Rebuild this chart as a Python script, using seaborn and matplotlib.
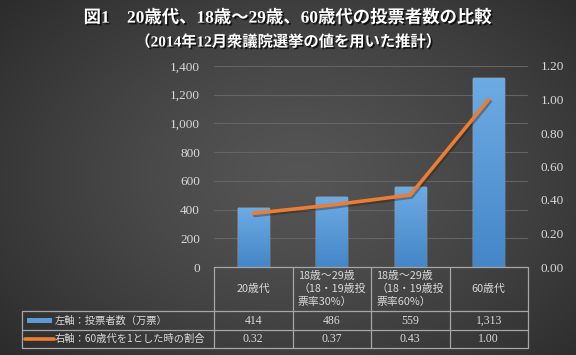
import numpy as np
import pandas as pd
import matplotlib
matplotlib.use("Agg")
import matplotlib.pyplot as plt
import matplotlib.patheffects as pe
from matplotlib.lines import Line2D
from matplotlib.patches import Rectangle
import matplotlib.transforms as mtransforms
import seaborn as sns

# ---------------- data ----------------
categories = ["20歳代",
              "18歳～29歳\n（18・19歳投\n票率30%）",
              "18歳～29歳\n（18・19歳投\n票率60%）",
              "60歳代"]
voters = [414, 486, 559, 1313]          # 左軸：投票者数（万票）
ratio = [0.32, 0.37, 0.43, 1.00]        # 右軸：60歳代を1とした時の割合
series_labels = ["左軸：投票者数（万票）", "右軸：60歳代を1とした時の割合"]
left_ticks = [0, 200, 400, 600, 800, 1000, 1200, 1400]
right_ticks = [0.0, 0.2, 0.4, 0.6, 0.8, 1.0, 1.2]
title = "図1　20歳代、18歳～29歳、60歳代の投票者数の比較"
subtitle = "（2014年12月衆議院選挙の値を用いた推計）"

# ---------------- style ----------------
sns.set_theme(style="white")
plt.rcParams["font.family"] = ["Noto Sans CJK JP", "DejaVu Sans"]
SERIF = ["Liberation Serif", "Noto Sans CJK JP"]
BLUE = "#5b9bd5"
ORANGE = "#ed7d31"
TXT = "#d9d9d9"
LINEC = "#a6a6a6"

W, H = 576, 355
fig = plt.figure(figsize=(W / 100, H / 100), dpi=100)

# background radial gradient
bg = fig.add_axes([0, 0, 1, 1], zorder=-10)
yy, xx = np.mgrid[0:1:355j, 0:1:576j]
d = np.sqrt(((xx - 0.52) / 0.75) ** 2 + ((yy - 0.5) / 0.85) ** 2)
val = 0x55 - (0x55 - 0x26) * np.clip(d, 0, 1) ** 1.3
img = np.dstack([val, val, val]) / 255.0
bg.imshow(img, aspect="auto", extent=(0, 1, 0, 1), origin="upper")
bg.set_axis_off()

# main axes
ax_left, ax_right = 214 / W, 528 / W
ax_bot, ax_top = 1 - 267 / H, 1 - 66 / H
ax = fig.add_axes([ax_left, ax_bot, ax_right - ax_left, ax_top - ax_bot])
ax.set_facecolor("none")

df = pd.DataFrame({"cat": categories, "voters": voters, "ratio": ratio})
sns.barplot(data=df, x="cat", y="voters", ax=ax, color=BLUE, width=0.4,
            saturation=1, zorder=3)

# gradient fill on bars
grad = np.linspace(0, 1, 64).reshape(-1, 1)
top_c = np.array([0x6d, 0xab, 0xe3]) / 255
bot_c = np.array([0x44, 0x86, 0xc8]) / 255
gimg = top_c[None, None, :] * (1 - grad[:, :, None]) + bot_c[None, None, :] * grad[:, :, None]
for p in list(ax.patches):
    x0, w = p.get_x(), p.get_width()
    h = p.get_height()
    # soft shadow to the right
    sh = Rectangle((x0 + 0.025, 0), w, h, facecolor="black", alpha=0.18,
                   edgecolor="none", zorder=2)
    ax.add_patch(sh)
    im = ax.imshow(gimg, aspect="auto", extent=(x0, x0 + w, 0, h),
                   origin="upper", zorder=3.5)
    im.set_clip_path(p)

ax.set_xlim(-0.5, len(categories) - 0.5)
ax.set_ylim(0, 1400)
ax.set_yticks(left_ticks)
ax.set_yticklabels([f"{v:,}" for v in left_ticks], fontfamily=SERIF,
                   fontsize=9.5, color=TXT)
ax.tick_params(axis="y", length=0, pad=10)
ax.tick_params(axis="x", length=0, labelbottom=False)
ax.set_xlabel("")
ax.set_ylabel("")
ax.yaxis.grid(True, color="#646464", linewidth=0.8, zorder=0)
ax.set_axisbelow(True)
for s in ax.spines.values():
    s.set_visible(False)

# secondary axis with line
ax2 = ax.twinx()
ax2.set_facecolor("none")
sns.lineplot(x=np.arange(len(categories)), y=ratio, ax=ax2, color=ORANGE,
             linewidth=2.6, zorder=5,
             path_effects=[pe.SimpleLineShadow(offset=(1, -1.5), alpha=0.35),
                           pe.Normal()])
ax2.set_xlim(-0.5, len(categories) - 0.5)
ax2.set_ylim(0, 1.2)
ax2.set_yticks(right_ticks)
ax2.set_yticklabels([f"{v:.2f}" for v in right_ticks], fontfamily=SERIF,
                    fontsize=9.5, color=TXT)
ax2.tick_params(axis="y", length=0, pad=9)
ax2.tick_params(axis="x", length=0, labelbottom=False)
ax2.grid(False)
ax2.set_ylabel("")
for s in ax2.spines.values():
    s.set_visible(False)

# ---------------- data table ----------------
blend = mtransforms.blended_transform_factory(ax.transData, ax.transAxes)
ypx = lambda py: (267 - py) / 201.0   # pixel row -> axes y
y_top, y_h, y_r1, y_r2 = ypx(267), ypx(311.3), ypx(330.3), ypx(348)
x_leg = (22.3 - 214) / 314.0
n = len(categories)
lw = 0.9

def hline(x0, x1, y, tr):
    ax.add_artist(Line2D([x0, x1], [y, y], transform=tr, color=LINEC,
                         linewidth=lw, clip_on=False, zorder=6))

def vline(x, y0, y1, tr):
    ax.add_artist(Line2D([x, x], [y0, y1], transform=tr, color=LINEC,
                         linewidth=lw, clip_on=False, zorder=6))

# horizontal lines
hline(-0.5, n - 0.5, y_top, blend)
hline(x_leg, 0, y_h, ax.transAxes)
hline(-0.5, n - 0.5, y_h, blend)
hline(x_leg, 0, y_r1, ax.transAxes)
hline(-0.5, n - 0.5, y_r1, blend)
hline(x_leg, 0, y_r2, ax.transAxes)
hline(-0.5, n - 0.5, y_r2, blend)
# vertical lines
vline(x_leg, y_h, y_r2, ax.transAxes)
for i in range(n + 1):
    vline(i - 0.5, y_top, y_r2, blend)

# header texts
for i, c in enumerate(categories):
    ax.text(i, (y_top + y_h) / 2, c, transform=blend, ha="center",
            va="center", multialignment="left", fontsize=7.8, color=TXT,
            linespacing=1.3, clip_on=False)

# value rows
r1c = (y_h + y_r1) / 2
r2c = (y_r1 + y_r2) / 2
for i in range(n):
    ax.text(i, r1c, f"{voters[i]:,}", transform=blend, ha="center",
            va="center", fontsize=8.5, color=TXT, fontfamily=SERIF)
    ax.text(i, r2c, f"{ratio[i]:.2f}", transform=blend, ha="center",
            va="center", fontsize=8.5, color=TXT, fontfamily=SERIF)

# legend keys & labels
tx = lambda px: (px - 214) / 314.0
ax.add_artist(Rectangle((tx(26.7), ypx(323)), tx(51.7) - tx(26.7),
                        ypx(317.7) - ypx(323), transform=ax.transAxes,
                        facecolor=BLUE, edgecolor="none", clip_on=False))
ax.add_artist(Line2D([tx(25), tx(54)], [ypx(338.7)] * 2, transform=ax.transAxes,
                     color=ORANGE, linewidth=2.6, clip_on=False))
ax.text(tx(55), r1c, series_labels[0], transform=ax.transAxes, ha="left",
        va="center", fontsize=7.4, color=TXT)
ax.text(tx(55), r2c, series_labels[1], transform=ax.transAxes, ha="left",
        va="center", fontsize=7.4, color=TXT)

# ---------------- titles ----------------
shadow = [pe.withSimplePatchShadow(offset=(1.2, -1.2), shadow_rgbFace="black",
                                   alpha=0.7)]
fig.text(0.5, 1 - 18 / H, title, ha="center", va="center", fontsize=12.5,
         fontweight="bold", color="white", fontfamily=SERIF,
         path_effects=shadow)
fig.text(0.5, 1 - 42 / H, subtitle, ha="center", va="center", fontsize=11,
         fontweight="bold", color="white", fontfamily=SERIF,
         path_effects=shadow)

fig.savefig("out.png", dpi=100)
